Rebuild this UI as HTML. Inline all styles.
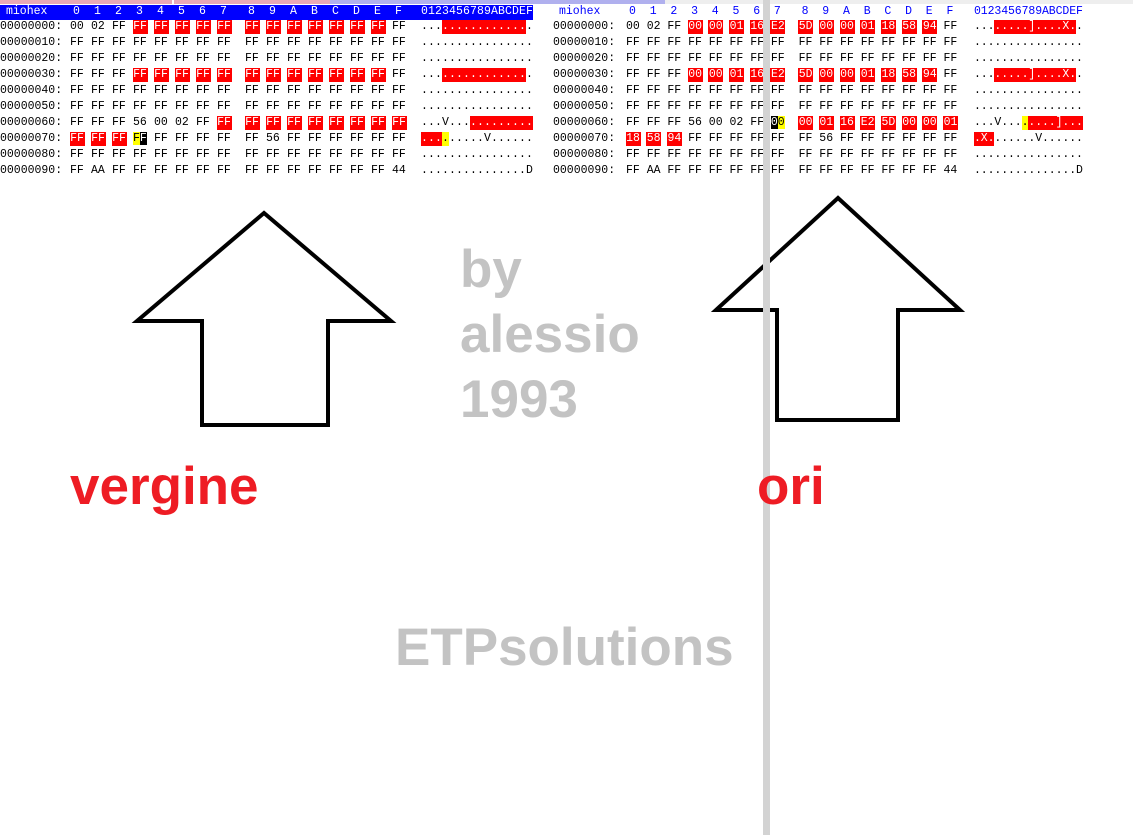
<!DOCTYPE html>
<html><head><meta charset="utf-8"><style>
body{margin:0;width:1133px;height:835px;background:#fff;position:relative;overflow:hidden;font-family:"Liberation Mono",monospace;font-size:11.5px}
.c{position:absolute;height:14px;line-height:14px;white-space:pre;color:#000}
.r{background:#f00;color:#fff;text-align:center}
.big{position:absolute;font-family:"Liberation Sans",Arial,sans-serif;font-weight:bold;font-size:53px;line-height:1;white-space:nowrap}
</style></head><body>
<div style="position:absolute;left:0;top:0;width:172px;height:4px;background:#e8a8b8"></div>
<div style="position:absolute;left:174px;top:0;width:156px;height:4px;background:#e8a8b8"></div>
<div style="position:absolute;left:330px;top:0;width:335px;height:4px;background:#b0b0ee"></div>
<div style="position:absolute;left:665px;top:0;width:468px;height:4px;background:#eee"></div>
<div style="position:absolute;left:0;top:5px;width:533px;height:15px;background:#0000ff"></div>
<div id="h"></div>
<svg style="position:absolute;left:0;top:0" width="1133" height="835">
<polygon points="264,213 137,321 202,321 202,425 328,425 328,321 391,321" fill="none" stroke="#000" stroke-width="4"/>
<polygon points="838,198 716,310 777,310 777,420 898,420 898,310 960,310" fill="none" stroke="#000" stroke-width="4"/>
</svg>
<div style="position:absolute;left:763px;top:0;width:7px;height:835px;background:#d3d3d3"></div>
<div class="big" style="left:460px;top:243px;color:#c3c3c3">by</div>
<div class="big" style="left:460px;top:308px;color:#c3c3c3">alessio</div>
<div class="big" style="left:460px;top:373px;color:#c3c3c3">1993</div>
<div class="big" style="left:395px;top:621px;color:#c3c3c3">ETPsolutions</div>
<div class="big" style="left:70px;top:460px;color:#ee1c24">vergine</div>
<div class="big" style="left:757px;top:460px;color:#ee1c24">ori</div>
<script>
var H=document.getElementById('h'),o='';
function cell(x,y,t,cls,w){o+='<div class="c '+(cls||'')+'" style="left:'+x+'px;top:'+y+'px'+(w?';width:'+w+'px':'')+'">'+t+'</div>';}
function dump(ax,c0,sp,gap,asx,cw,data){
  var hy=5;
  cell(ax+6,hy,'miohex','',0);
  var hx='0123456789ABCDEF';
  for(var i=0;i<16;i++){var x=c0+i*sp+(i>7?gap:0);cell(x+3,hy,hx[i]);}
  for(var i=0;i<16;i++)cell(asx+i*cw,hy,hx[i]);
  o=o.replace(/class="c "/g,'class="c " data-h');
  var rows=['00','10','20','30','40','50','60','70','80','90'];
  for(var r=0;r<10;r++){
    var y=20+r*16,d=data[r];
    cell(ax,y,'000000'+rows[r]+':');
    for(var i=0;i<16;i++){var x=c0+i*sp+(i>7?gap:0),b=d.b[i],k=d.k[i];
      if(k=='r')cell(x-0.5,y,b,'r',15);
      else if(k=='s1')o+='<div class="c" style="left:'+x+'px;top:'+y+'px"><span style="background:#ff0">'+b[0]+'</span><span style="background:#000;color:#fff">'+b[1]+'</span></div>';
      else if(k=='s2')o+='<div class="c" style="left:'+x+'px;top:'+y+'px"><span style="background:#000;color:#fff">'+b[0]+'</span><span style="background:#ff0">'+b[1]+'</span></div>';
      else cell(x,y,b);}
    for(var i=0;i<16;i++){var k=d.a[i];cell(asx+i*cw,y,d.t[i],k=='r'?'r':'',cw);if(k=='y')o=o.replace(/class="c " style="([^"]*)">([^<]*)<\/div>$/,'class="c" style="$1;background:#ff0">$2</div>');}
  }
  H.insertAdjacentHTML('beforeend',o);o='';
}
function row(bs,ks,t,a){return{b:bs.split(' '),k:ks.split(''),t:t,a:a.split('')};}
var FF='FF FF FF FF FF FF FF FF FF FF FF FF FF FF FF FF',N='................',K='nnnnnnnnnnnnnnnn';
var L=[
row('00 02 FF FF FF FF FF FF FF FF FF FF FF FF FF FF','nnnrrrrrrrrrrrrn',N,'nnnrrrrrrrrrrrrn'),
row(FF,K,N,K),row(FF,K,N,K),
row(FF,'nnnrrrrrrrrrrrrn',N,'nnnrrrrrrrrrrrrn'),
row(FF,K,N,K),row(FF,K,N,K),
row('FF FF FF 56 00 02 FF FF FF FF FF FF FF FF FF FF','nnnnnnnrrrrrrrrr','...V............','nnnnnnnrrrrrrrrr'),
row('FF FF FF FF FF FF FF FF FF 56 FF FF FF FF FF FF','rrrxnnnnnnnnnnnn','.........V......','rrrynnnnnnnnnnnn'),
row(FF,K,N,K),
row('FF AA FF FF FF FF FF FF FF FF FF FF FF FF FF 44',K,'...............D',K)];
L[7].k[3]='s1';
var R=[
row('00 02 FF 00 00 01 16 E2 5D 00 00 01 18 58 94 FF','nnnrrrrrrrrrrrrn','........]....X..','nnnrrrrrrrrrrrrn'),
row(FF,K,N,K),row(FF,K,N,K),
row('FF FF FF 00 00 01 16 E2 5D 00 00 01 18 58 94 FF','nnnrrrrrrrrrrrrn','........]....X..','nnnrrrrrrrrrrrrn'),
row(FF,K,N,K),row(FF,K,N,K),
row('FF FF FF 56 00 02 FF 00 00 01 16 E2 5D 00 00 01','nnnnnnnxrrrrrrrr','...V........]...','nnnnnnnyrrrrrrrr'),
row('18 58 94 FF FF FF FF FF FF 56 FF FF FF FF FF FF','rrrnnnnnnnnnnnnn','.X.......V......','rrrnnnnnnnnnnnnn'),
row(FF,K,N,K),
row('FF AA FF FF FF FF FF FF FF FF FF FF FF FF FF 44',K,'...............D',K)];
R[6].k[7]='s2';
dump(0,70,21,7,421,7,L);
dump(553,626,20.7,7,974,6.8,R);
var hs=document.querySelectorAll('[data-h]');
for(var i=0;i<hs.length;i++){hs[i].style.color=parseFloat(hs[i].style.left)<540?'#fff':'#00f';}
</script>
</body></html>
